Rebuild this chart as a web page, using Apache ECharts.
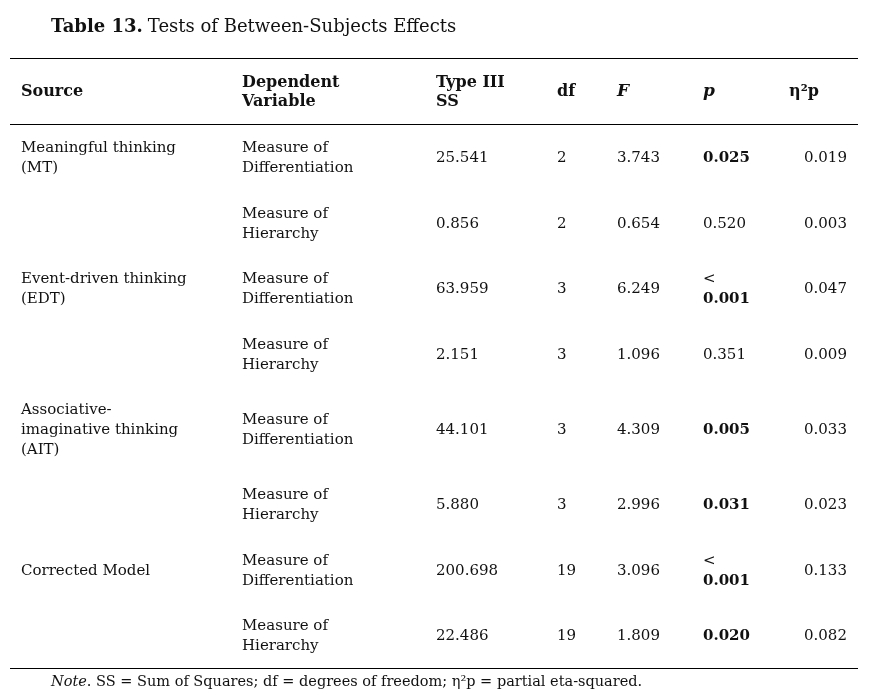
<!DOCTYPE html>
<html>
<head>
<meta charset="utf-8">
<script src="https://cdn.jsdelivr.net/npm/echarts@6/dist/echarts.min.js"></script>
<style>
  html, body { margin: 0; padding: 0; background: #fff; }
  #stage { width: 879px; height: 695px; }
</style>
</head>
<body>
<div id="stage"></div>
<script>
'use strict';

const myChart = echarts.init(document.getElementById('stage'));

// table contents
const headers = ['Source', 'Dependent\nVariable', 'Type III\nSS', 'df', 'F', 'p', 'η²p'];
const sources = ['Meaningful thinking\n(MT)', '', 'Event-driven thinking\n(EDT)', '',
  'Associative-\nimaginative thinking\n(AIT)', '', 'Corrected Model', ''];
const variables = ['Measure of\nDifferentiation', 'Measure of\nHierarchy',
  'Measure of\nDifferentiation', 'Measure of\nHierarchy',
  'Measure of\nDifferentiation', 'Measure of\nHierarchy',
  'Measure of\nDifferentiation', 'Measure of\nHierarchy'];
const typeSS = ['25.541', '0.856', '63.959', '2.151', '44.101', '5.880', '200.698', '22.486'];
const dfVals = ['2', '2', '3', '3', '3', '3', '19', '19'];
const fVals = ['3.743', '0.654', '6.249', '1.096', '4.309', '2.996', '3.096', '1.809'];
const pVals = ['0.025', '0.520', '< 0.001', '0.351', '0.005', '0.031', '< 0.001', '0.020'];
const pBold = [true, false, true, false, true, true, true, true];
const etaVals = ['0.019', '0.003', '0.047', '0.009', '0.033', '0.023', '0.133', '0.082'];

// layout (axis units are page pixels)
const COLX = [21, 242, 436, 557, 617, 703, 804];
const HEADX = [21, 242, 436, 557, 617, 703, 789];
const HEADY = 92;
const ROWY = [158, 224, 289, 355, 430, 505, 571, 636];
const RULES = [58, 124, 668];
const FONT = '"DejaVu Serif", Georgia, serif';
const FS = 15;
const HFS = 16;
const INK = '#111';

const baseLabel = {
  show: true,
  position: 'inside',
  align: 'left',
  verticalAlign: 'middle',
  color: INK,
  opacity: 1,
  fontFamily: FONT,
  fontSize: FS,
  fontWeight: 'normal',
  lineHeight: 20
};

function columnSeries(name, x, values, extra) {
  return {
    name: name,
    type: 'scatter',
    symbolSize: 0,
    itemStyle: { color: '#fff' },
    silent: true,
    data: values.map((v, i) => [x, ROWY[i], v]),
    label: Object.assign({}, baseLabel, { formatter: p => p.value[2] }, extra || {})
  };
}

const series = [
  // header row
  {
    name: 'header',
    type: 'scatter',
    symbolSize: 0,
    itemStyle: { color: '#fff' },
    silent: true,
    data: headers.map((h, i) => [HEADX[i], HEADY, h]),
    label: Object.assign({}, baseLabel, {
      fontWeight: 'bold',
      fontSize: HFS,
      lineHeight: 19,
      formatter: p => (p.value[2] === 'F' || p.value[2] === 'p') ? '{i|' + p.value[2] + '}' : p.value[2],
      rich: { i: { fontStyle: 'italic', fontWeight: 'bold', fontFamily: FONT, fontSize: HFS + 1, color: INK } }
    }),
    markLine: {
      symbol: 'none',
      silent: true,
      label: { show: false },
      lineStyle: { color: '#000', width: 1, type: 'solid' },
      data: RULES.map(y => [{ coord: [10, y] }, { coord: [858, y] }])
    }
  },
  columnSeries('source', COLX[0], sources),
  columnSeries('variable', COLX[1], variables),
  columnSeries('ss', COLX[2], typeSS),
  columnSeries('df', COLX[3], dfVals),
  columnSeries('F', COLX[4], fVals),
  columnSeries('p', COLX[5], pVals, {
    formatter: p => {
      const i = p.dataIndex;
      const v = p.value[2];
      if (v.indexOf('<') === 0) return '{n|<}\n{b|' + v.slice(2) + '}';
      return pBold[i] ? '{b|' + v + '}' : v;
    },
    rich: {
      n: { fontFamily: FONT, fontSize: FS, color: INK, lineHeight: 20 },
      b: { fontFamily: FONT, fontSize: FS, fontWeight: 'bold', color: INK, lineHeight: 20 }
    }
  }),
  columnSeries('eta', COLX[6], etaVals)
];

const option = {
  animation: false,
  title: [
    {
      text: '{b|Table 13.} {n|Tests of Between-Subjects Effects}',
      left: 46,
      top: 13,
      textStyle: {
        fontWeight: 'normal',
        rich: {
          b: { fontFamily: FONT, fontSize: 18, fontWeight: 'bold', color: INK },
          n: { fontFamily: FONT, fontSize: 18, fontWeight: 'normal', color: INK }
        }
      }
    },
    {
      text: '{i|Note}{n|. SS = Sum of Squares; df = degrees of freedom; η²p = partial eta-squared.}',
      left: 46,
      top: 670,
      textStyle: {
        fontWeight: 'normal',
        rich: {
          i: { fontFamily: FONT, fontSize: 14.5, fontStyle: 'italic', fontWeight: 'normal', color: INK },
          n: { fontFamily: FONT, fontSize: 14.5, fontWeight: 'normal', color: INK }
        }
      }
    }
  ],
  grid: { left: 0, right: 0, top: 0, bottom: 0 },
  xAxis: { type: 'value', min: 0, max: 879, show: false },
  yAxis: { type: 'value', min: 0, max: 695, inverse: true, show: false },
  series: series
};

myChart.setOption(option);
</script>
</body>
</html>
